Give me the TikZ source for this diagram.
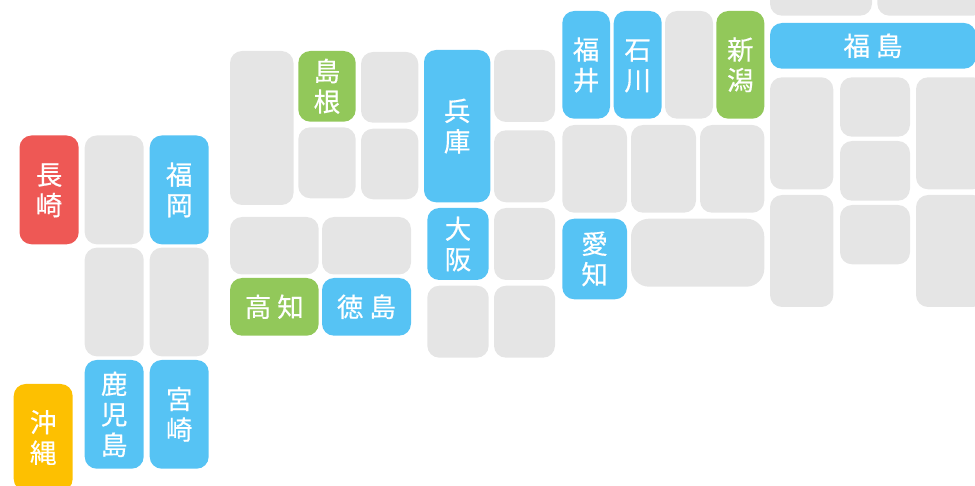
\documentclass[tikz,border=0pt]{standalone}
\usepackage{fontspec}
\setmainfont[RawFeature={embolden=0.5}]{Noto Sans CJK JP}
\definecolor{prefblue}{HTML}{56C3F4}
\definecolor{prefgreen}{HTML}{92C85A}
\definecolor{prefred}{HTML}{EE5855}
\definecolor{prefyellow}{HTML}{FDC001}
\definecolor{prefgray}{HTML}{E5E5E5}
\tikzset{
  pref/.style={rectangle,rounded corners=12pt,inner sep=0pt,outer sep=0pt,text=white,align=center,
    font=\fontsize{26.5}{30.5}\selectfont},
  pb/.style={pref,fill=prefblue},
  pg/.style={pref,fill=prefgreen},
  pr/.style={pref,fill=prefred},
  py/.style={pref,fill=prefyellow},
  pe/.style={pref,fill=prefgray},
  pw/.style={pref,fill=prefgray,rounded corners=18pt},
}
\newcommand{\lineprop}{\rule[-3pt]{0pt}{26pt}}
\newcommand{\pref}[7]{%
  \pgfmathsetmacro{\pw}{#5-#3}\pgfmathsetmacro{\ph}{#6-#4}%
  \pgfmathsetmacro{\pcx}{(#3+#5)/2}\pgfmathsetmacro{\pcy}{(#4+#6)/2}%
  \node[#2,minimum width=\pw pt,minimum height=\ph pt] (#1) at (\pcx,\pcy) {\lineprop #7\lineprop};}
\newcommand{\gap}{\hspace{6pt}}
\begin{document}
\begin{tikzpicture}[x=1pt,y=-1pt]
\useasboundingbox (0,0) rectangle (975,486);
% Kyushu
\pref{nagasaki}{pr}{19.5}{135.5}{78.7}{244.3}{長\\崎}
\pref{saga}{pe}{84.7}{135.5}{143.7}{244.3}{}
\pref{fukuoka}{pb}{149.7}{135.5}{208.7}{244.3}{福\\岡}
\pref{kumamoto}{pe}{84.7}{247.7}{143.7}{356.3}{}
\pref{oita}{pe}{149.7}{247.7}{208.7}{356.3}{}
\pref{kagoshima}{pb}{84.7}{360}{143.7}{468.7}{鹿\\児\\島}
\pref{miyazaki}{pb}{149.7}{360}{208.7}{468.7}{宮\\崎}
\pref{okinawa}{py}{13.7}{384}{72.7}{491}{沖\\縄}
% Chugoku / Shikoku
\pref{yamaguchi}{pe}{230}{51}{293.5}{205}{}
\pref{shimane}{pg}{298.3}{51}{355.7}{121.7}{島\\根}
\pref{tottori}{pe}{361}{52}{418.3}{122.7}{}
\pref{hiroshima}{pe}{298.3}{127.3}{355.7}{198.3}{}
\pref{okayama}{pe}{361}{128.7}{418.3}{199.3}{}
\pref{ehime}{pe}{230}{217}{318.7}{274.5}{}
\pref{kagawa}{pe}{322}{217}{411}{274.5}{}
\pref{kochi}{pg}{230}{278}{318.7}{335.7}{高\gap 知}
\pref{tokushima}{pb}{322}{278}{411}{335.7}{徳\gap 島}
% Kinki
\pref{hyogo}{pb}{424}{50}{490.3}{202.3}{兵\\庫}
\pref{kyoto}{pe}{494}{50}{555}{122}{}
\pref{shiga}{pe}{494}{130.3}{555}{202.3}{}
\pref{osaka}{pb}{427.3}{208}{488.7}{280}{大\\阪}
\pref{nara}{pe}{494}{208}{555}{280}{}
\pref{wakayama}{pe}{427.3}{285.7}{488.7}{357.7}{}
\pref{mie}{pe}{494}{285.7}{555}{357.7}{}
% Chubu
\pref{fukui}{pb}{562.3}{11}{610}{118.7}{福\\井}
\pref{ishikawa}{pb}{613.7}{11}{661.7}{118.7}{石\\川}
\pref{toyama}{pe}{665}{11}{713}{118.7}{}
\pref{niigata}{pg}{716.3}{11}{764.3}{118.7}{新\\潟}
\pref{gifu}{pe}{562.3}{125}{627}{212.7}{}
\pref{nagano}{pe}{631}{125}{696}{212.7}{}
\pref{yamanashi}{pe}{700}{125}{764.3}{212.7}{}
\pref{aichi}{pb}{562.3}{218.7}{627}{299.3}{愛\\知}
\pref{shizuoka}{pw}{631}{218.7}{764.3}{286.7}{}
% Tohoku / Kanto
\pref{yamagata}{pe}{770}{-40}{872}{15.7}{}
\pref{miyagi}{pe}{877.3}{-40}{985}{15.7}{}
\pref{fukushima}{pb}{770}{23}{976}{68.7}{福\gap 島}
\pref{gunma}{pe}{770}{77.3}{833.3}{189.3}{}
\pref{saitama}{pe}{770}{195}{833.3}{307}{}
\pref{tochigi}{pe}{840}{77.3}{910}{136.7}{}
\pref{tokyo}{pe}{840}{141}{910}{200.7}{}
\pref{kanagawa}{pe}{840}{205}{910}{264.3}{}
\pref{ibaraki}{pe}{916}{77.3}{985}{189.3}{}
\pref{chiba}{pe}{916}{195}{985}{307}{}
\end{tikzpicture}
\end{document}
